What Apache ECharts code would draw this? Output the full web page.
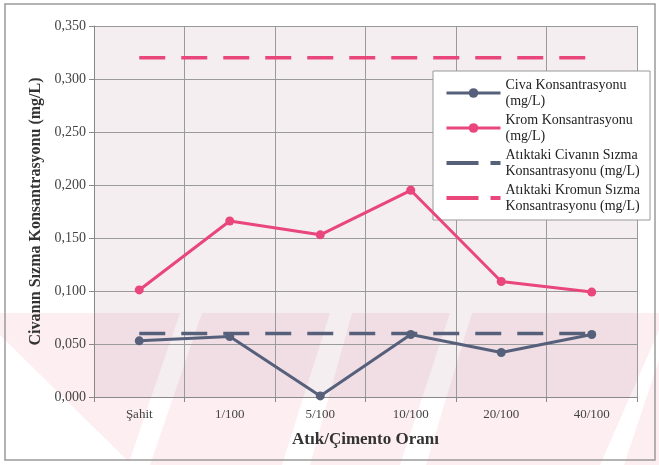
<!DOCTYPE html>
<html>
<head>
<meta charset="utf-8">
<script src="https://cdn.jsdelivr.net/npm/echarts@6/dist/echarts.min.js"></script>
<style>
  html, body { margin: 0; padding: 0; background: #fff; }
  #main { width: 659px; height: 465px; }
</style>
</head>
<body>
<div id="main"></div>
<script>
var categories = ['Şahit', '1/100', '5/100', '10/100', '20/100', '40/100'];
var civaData = [0.053, 0.057, 0.001, 0.059, 0.042, 0.059];
var kromData = [0.101, 0.166, 0.153, 0.195, 0.109, 0.099];
var civaLimit = [0.060, 0.060, 0.060, 0.060, 0.060, 0.060];
var kromLimit = [0.320, 0.320, 0.320, 0.320, 0.320, 0.320];

var seriesNames = ['Civa', 'Krom', 'CivaSizma', 'KromSizma'];
var legendTexts = {
    'Civa': 'Civa Konsantrasyonu\n(mg/L)',
    'Krom': 'Krom Konsantrasyonu\n(mg/L)',
    'CivaSizma': 'Atıktaki Civanın Sızma\nKonsantrasyonu (mg/L)',
    'KromSizma': 'Atıktaki Kromun Sızma\nKonsantrasyonu (mg/L)'
};

var civaColor = '#56607a';
var kromColor = '#e9467c';
var serif = 'Liberation Serif';
// long dash + short dash, like the scanned legend
var dashIcon = 'path://M0,0h0.01v0.01h-0.01z M0,4h32v4h-32z M44,4h10v4h-10z M54,12h-0.01v-0.01h0.01z';

var myChart = echarts.init(document.getElementById('main'));

// faint watermark of the scan (pink band with white diagonal stripes), kept behind everything
var pink = 'rgba(226,96,126,0.11)';
function poly(pts, fill) {
    return { type: 'polygon', shape: { points: pts }, style: { fill: fill }, z: -10, silent: true };
}

var option = {
    backgroundColor: '#fff',
    animation: false,
    graphic: [
        poly([[0, 313], [659, 313], [659, 335], [0, 335]], pink),
        poly([[0, 335], [659, 335], [659, 465], [132, 465], [0, 372]], pink),
        poly([[0, 335], [0, 372], [92, 465], [132, 465]], '#fff'),
        poly([[128, 465], [150, 465], [202, 313], [180, 313]], '#fff'),
        poly([[282, 465], [310, 465], [352, 313], [330, 313]], '#fff'),
        poly([[400, 465], [426, 465], [472, 313], [450, 313]], '#fff'),
        poly([[600, 465], [624, 465], [659, 360], [659, 330]], '#fff'),
        {
            type: 'rect',
            shape: { x: 5, y: 4, width: 650, height: 456 },
            style: { fill: 'none', stroke: '#9a9a9a', lineWidth: 1.5 },
            z: 2,
            silent: true
        }
    ],
    grid: {
        left: 94,
        right: 22,
        top: 26,
        bottom: 68,
        show: true,
        backgroundColor: 'rgba(145,85,115,0.1)',
        borderWidth: 0
    },
    legend: {
        data: [
            { name: 'Civa' },
            { name: 'Krom' },
            { name: 'CivaSizma', icon: dashIcon },
            { name: 'KromSizma', icon: dashIcon }
        ],
        orient: 'vertical',
        left: 433,
        top: 71,
        padding: [6, 10, 6, 12],
        itemGap: 3,
        itemWidth: 54,
        itemHeight: 12,
        backgroundColor: '#fff',
        borderColor: '#999',
        borderWidth: 1,
        lineStyle: { width: 3 },
        formatter: function(name) {
            return legendTexts[name];
        },
        textStyle: {
            fontFamily: serif,
            fontSize: 14,
            color: '#222',
            lineHeight: 16
        }
    },
    xAxis: [
        {
            type: 'category',
            data: categories,
            name: 'Atık/Çimento Oranı',
            nameLocation: 'middle',
            nameGap: 34,
            nameTextStyle: {
                fontFamily: serif,
                fontSize: 17,
                fontWeight: 'bold',
                color: '#333'
            },
            axisLine: { lineStyle: { color: '#888' } },
            axisTick: { show: true, lineStyle: { color: '#888' } },
            axisLabel: {
                fontFamily: serif,
                fontSize: 13,
                color: '#444',
                margin: 11
            },
            splitLine: { show: true, interval: 0, lineStyle: { color: '#9a9a9a', width: 1 } }
        }
    ],
    yAxis: [
        {
            type: 'value',
            min: 0,
            max: 0.35,
            interval: 0.05,
            name: 'Civanın Sızma Konsantrasyonu (mg/L)',
            nameLocation: 'middle',
            nameGap: 42,
            nameTextStyle: {
                fontFamily: serif,
                fontSize: 16,
                fontWeight: 'bold',
                color: '#333'
            },
            axisLine: { show: true, lineStyle: { color: '#888' } },
            axisTick: { show: true, length: 5, lineStyle: { color: '#888' } },
            axisLabel: {
                fontFamily: serif,
                fontSize: 14,
                color: '#444',
                margin: 8,
                formatter: function(v) {
                    return v.toFixed(3).replace('.', ',');
                }
            },
            splitLine: { show: true, lineStyle: { color: '#9a9a9a', width: 1 } }
        }
    ],
    series: [
        {
            name: 'Civa',
            type: 'line',
            data: civaData,
            color: civaColor,
            symbol: 'circle',
            symbolSize: 9,
            lineStyle: { width: 3, color: civaColor },
            itemStyle: { color: civaColor },
            z: 4
        },
        {
            name: 'Krom',
            type: 'line',
            data: kromData,
            color: kromColor,
            symbol: 'circle',
            symbolSize: 9,
            lineStyle: { width: 3, color: kromColor },
            itemStyle: { color: kromColor },
            z: 4
        },
        {
            name: 'CivaSizma',
            type: 'line',
            data: civaLimit,
            color: civaColor,
            symbol: 'none',
            lineStyle: { width: 3.5, color: civaColor, type: [26, 16] },
            itemStyle: { color: civaColor },
            z: 3
        },
        {
            name: 'KromSizma',
            type: 'line',
            data: kromLimit,
            color: kromColor,
            symbol: 'none',
            lineStyle: { width: 3.5, color: kromColor, type: [26, 16] },
            itemStyle: { color: kromColor },
            z: 3
        }
    ]
};

myChart.setOption(option);
</script>
</body>
</html>
